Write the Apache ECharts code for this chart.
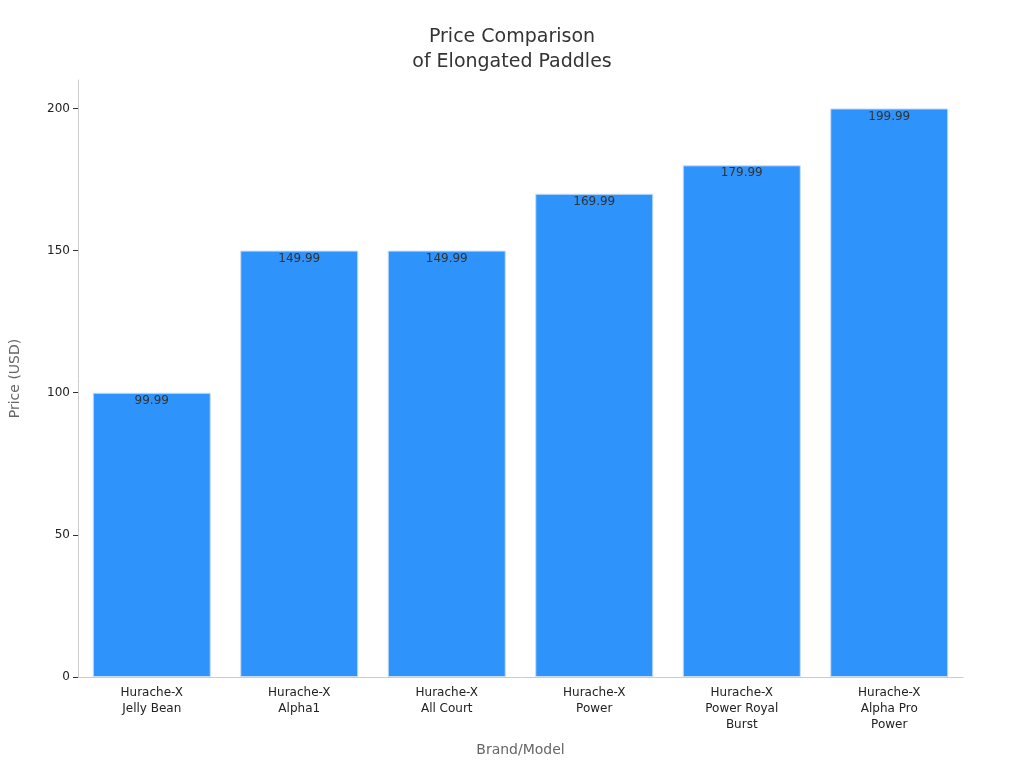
<!DOCTYPE html>
<html><head><meta charset="utf-8">
<script src="https://cdn.jsdelivr.net/npm/echarts@6/dist/echarts.min.js"></script>
<style>html,body{margin:0;padding:0;background:#fff}#c{width:1024px;height:768px}</style>
</head><body><div id="c"></div>
<script>
const categories = ["Hurache-X\nJelly Bean","Hurache-X\nAlpha1","Hurache-X\nAll Court","Hurache-X\nPower","Hurache-X\nPower Royal\nBurst","Hurache-X\nAlpha Pro\nPower"];
const prices = [99.99,149.99,149.99,169.99,179.99,199.99];
const chart = echarts.init(document.getElementById('c'));
chart.setOption({
  animation:false,
  textStyle:{fontFamily:"DejaVu Sans"},
  title:{text:"Price Comparison\nof Elongated Paddles",left:"center",top:20,textStyle:{fontSize:19,fontWeight:"normal",color:"#333",lineHeight:25,fontFamily:"DejaVu Sans"}},
  grid:{left:69,right:61,top:80,bottom:91},
  xAxis:{type:"category",data:categories,name:"Brand/Model",nameLocation:"middle",nameGap:66,
    nameTextStyle:{fontSize:14,color:"#666"},
    axisLine:{lineStyle:{color:"#ccc"}},axisTick:{alignWithLabel:true,lineStyle:{color:"#333"}},
    axisLabel:{color:"#222",fontSize:12,lineHeight:16,interval:0}},
  yAxis:{type:"value",min:0,max:210,interval:50,name:"Price (USD)",nameLocation:"middle",nameGap:56,
    nameTextStyle:{fontSize:14,color:"#666"},
    axisLine:{show:true,lineStyle:{color:"#ccc"}},axisTick:{show:true,lineStyle:{color:"#333"}},
    axisLabel:{color:"#222",fontSize:12,showMaxLabel:false},splitLine:{show:false}},
  series:[{type:"bar",data:prices,barCategoryGap:"20%",
    itemStyle:{color:"#2E93FA",borderColor:"#c8ddf5",borderWidth:1},
    label:{show:true,position:"insideTop",color:"#333",fontSize:12,offset:[0,-3]}}]
});
</script></body></html>
